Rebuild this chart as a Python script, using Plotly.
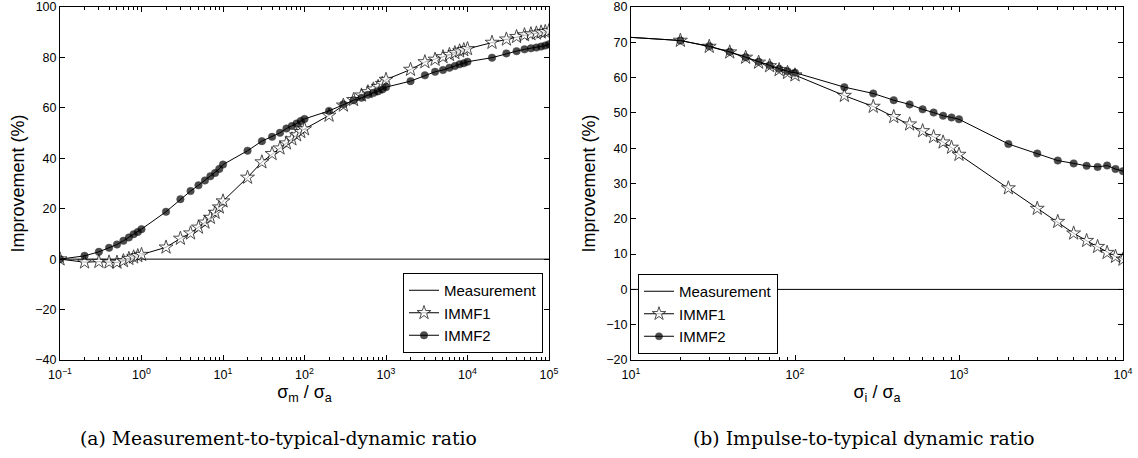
import numpy as np
import plotly.graph_objects as go

# ---- data: (a) measurement-to-typical-dynamic ratio ----
ratio_m = [0.1,
           0.2, 0.3, 0.4, 0.5, 0.6, 0.7, 0.8, 0.9, 1,
           2, 3, 4, 5, 6, 7, 8, 9, 10,
           20, 30, 40, 50, 60, 70, 80, 90, 100,
           200, 300, 400, 500, 600, 700, 800, 900, 1000,
           2000, 3000, 4000, 5000, 6000, 7000, 8000, 9000, 10000,
           20000, 30000, 40000, 50000, 60000, 70000, 80000, 90000, 100000]
immf1_a = [0,
           -1.2, -1.0, -1.2, -1.3, -0.7, 0.2, 0.8, 1.3, 1.8,
           4.7, 8.2, 10.3, 12.6, 14.6, 16.5, 18.5, 20.6, 23.0,
           32.4, 38.5, 41.8, 44.0, 46.0, 47.6, 49.2, 50.5, 51.6,
           57.0, 61.0, 63.2, 65.0, 66.3, 67.4, 68.4, 69.6, 71.2,
           75.2, 78.2, 79.2, 80.2, 81.1, 81.8, 82.5, 83.0, 83.4,
           85.9, 87.2, 88.2, 88.9, 89.3, 89.6, 90.0, 90.2, 90.5]
immf2_a = [0,
           1.3, 2.9, 4.5, 5.8, 7.3, 8.6, 9.9, 10.8, 11.9,
           18.8, 23.8, 27.0, 29.3, 31.2, 32.9, 34.2, 35.8, 37.5,
           43.0, 46.8, 48.5, 50.1, 51.8, 52.8, 53.8, 54.8, 55.6,
           58.8, 61.4, 63.0, 64.0, 65.2, 65.9, 66.6, 67.3, 68.2,
           70.6, 72.9, 74.3, 75.0, 75.9, 76.6, 77.3, 77.7, 78.3,
           79.9, 81.6, 82.5, 83.2, 83.6, 83.9, 84.3, 84.7, 85.2]
meas_a_x = [0.1, 100000]
meas_a_y = [0, 0]

# ---- data: (b) impulse-to-typical dynamic ratio ----
ratio_i = [10, 20, 30, 40, 50, 60, 70, 80, 90, 100,
           200, 300, 400, 500, 600, 700, 800, 900, 1000,
           2000, 3000, 4000, 5000, 6000, 7000, 8000, 9000, 10000]
immf1_b = [71.4, 70.5, 68.8, 67.2, 65.7, 64.3, 63.3, 62.2, 61.4, 60.7,
           54.9, 51.8, 48.9, 46.8, 44.9, 43.2, 41.7, 40.2, 38.2,
           28.7, 22.9, 19.2, 15.9, 13.8, 12.1, 10.4, 9.3, 8.5]
immf2_b = [71.4, 70.5, 68.9, 67.3, 65.8, 64.5, 63.5, 62.5, 61.8, 61.4,
           57.3, 55.5, 53.6, 52.4, 51.0, 50.1, 49.2, 48.7, 48.2,
           41.2, 38.5, 36.5, 35.7, 35.0, 34.7, 35.1, 34.1, 33.5]
meas_b_x = [10, 10000]
meas_b_y = [0, 0]

FONT = "Liberation Sans, Arial, sans-serif"
W, H = 1138, 458


def px(s):
    return s / W


def py(s):
    return 1 - s / H


def decade_ticks(lo, hi):
    vals = [10.0 ** p for p in range(lo, hi + 1)]
    txt = ["10<sup>%s</sup>" % (str(p).replace("-", "\u2212")) for p in range(lo, hi + 1)]
    minor = [m * 10.0 ** p for p in range(lo, hi) for m in range(2, 10)]
    return vals, txt, minor


def add_panel(fig, xs, y1, y2, mx, my, xref, legend, skip_first=False):
    # first point of panel (b) has no marker (line starts at the axis)
    n = len(xs)
    ssz = [10.5] * n
    csz = [7.5] * n
    if skip_first:
        ssz[0] = 0
        csz[0] = 0
    yref = xref.replace("x", "y")
    fig.add_trace(go.Scatter(x=mx, y=my, mode="lines", name="Measurement",
                             line=dict(color="black", width=1),
                             xaxis=xref, yaxis=yref, legend=legend))
    fig.add_trace(go.Scatter(x=xs, y=y1, mode="lines+markers", name="IMMF1",
                             line=dict(color="black", width=1),
                             marker=dict(symbol="star", size=ssz, color="white",
                                         line=dict(color="black", width=1)),
                             xaxis=xref, yaxis=yref, legend=legend))
    fig.add_trace(go.Scatter(x=xs, y=y2, mode="lines+markers", name="IMMF2",
                             line=dict(color="black", width=1),
                             marker=dict(symbol="circle", size=csz, color="black",
                                         line=dict(color="black", width=0.5)),
                             xaxis=xref, yaxis=yref, legend=legend))


fig = go.Figure()
add_panel(fig, ratio_m, immf1_a, immf2_a, meas_a_x, meas_a_y, "x", "legend")
add_panel(fig, ratio_i, immf1_b, immf2_b, meas_b_x, meas_b_y, "x2", "legend2", skip_first=True)

ydom = [py(360), py(7)]
common = dict(showline=True, linecolor="black", linewidth=1, mirror="allticks",
              ticks="inside", ticklen=5, tickcolor="black", showgrid=False, zeroline=False,
              ticklabeloverflow="allow",
              tickfont=dict(family=FONT, size=12.5, color="black"),
              title_font=dict(family=FONT, size=18, color="black"))

va, ta, mna = decade_ticks(-1, 5)
vb, tb, mnb = decade_ticks(1, 4)

legend_style = dict(bgcolor="white", bordercolor="black", borderwidth=1,
                    font=dict(family=FONT, size=15, color="black"), tracegroupgap=0)

fig.update_layout(
    width=W, height=H, template="none",
    margin=dict(l=0, r=0, t=0, b=0),
    paper_bgcolor="white", plot_bgcolor="white",
    font=dict(family=FONT, color="black"),
    xaxis=dict(common, type="log", domain=[px(60), px(549)], range=[-1, 5],
               tickmode="array", tickvals=va, ticktext=ta, ticklabelstandoff=3,
               minor=dict(tickmode="array", tickvals=mna, ticks="inside", ticklen=3, tickcolor="black"),
               title=dict(text="\u03c3<sub>m</sub> / \u03c3<sub>a</sub>", standoff=4)),
    yaxis=dict(common, domain=ydom, range=[-40, 100], tickmode="array",
               tickvals=[-40, -20, 0, 20, 40, 60, 80, 100],
               title=dict(text="Improvement (%)", standoff=5)),
    xaxis2=dict(common, type="log", domain=[px(631), px(1123)], range=[1, 4], anchor="y2",
                tickmode="array", tickvals=vb, ticktext=tb, ticklabelstandoff=3,
                minor=dict(tickmode="array", tickvals=mnb, ticks="inside", ticklen=3, tickcolor="black"),
                title=dict(text="\u03c3<sub>i</sub> / \u03c3<sub>a</sub>", standoff=4)),
    yaxis2=dict(common, domain=ydom, range=[-20, 80], anchor="x2", tickmode="array",
                tickvals=[-20, -10, 0, 10, 20, 30, 40, 50, 60, 70, 80],
                title=dict(text="Improvement (%)", standoff=5)),
    legend=dict(legend_style, x=px(543), y=py(353), xanchor="right", yanchor="bottom"),
    legend2=dict(legend_style, x=px(638), y=py(354), xanchor="left", yanchor="bottom"),
    showlegend=True,
)

cap_font = dict(family="DejaVu Serif, Liberation Serif, serif", size=18.8, color="black")
fig.add_annotation(text="(a) Measurement-to-typical-dynamic ratio", x=px(278), y=py(438),
                   xref="paper", yref="paper", xanchor="center", yanchor="middle",
                   showarrow=False, font=cap_font)
fig.add_annotation(text="(b) Impulse-to-typical dynamic ratio", x=px(863), y=py(438),
                   xref="paper", yref="paper", xanchor="center", yanchor="middle",
                   showarrow=False, font=cap_font)

# the page body would otherwise add its default 8px margin around the figure
fig.write_html("out.html", config={"displayModeBar": False},
               post_script="document.body.style.margin = '0';")
